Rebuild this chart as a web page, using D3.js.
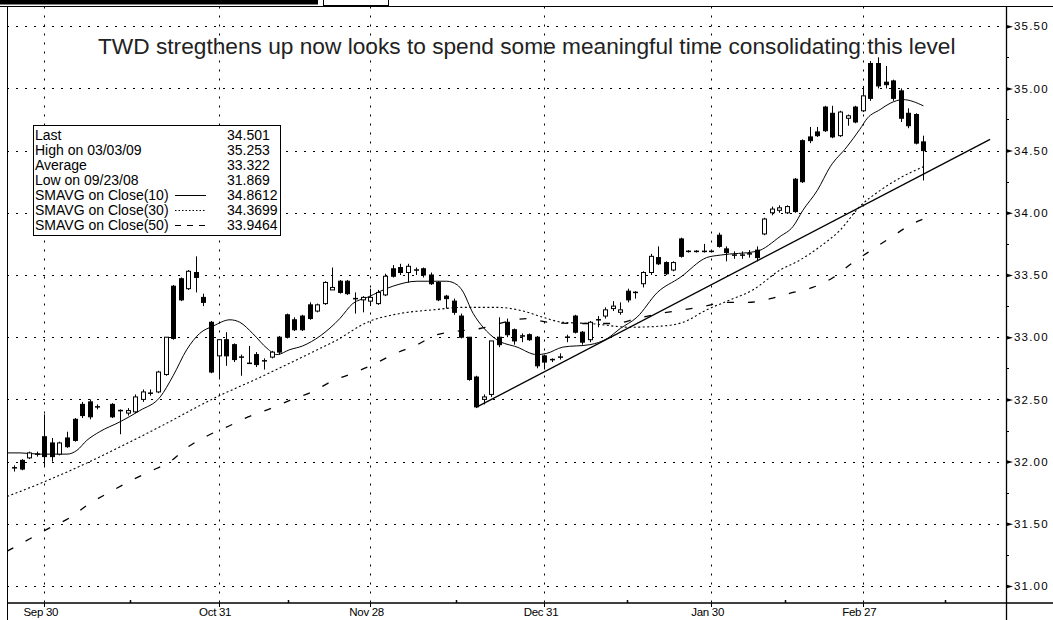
<!DOCTYPE html>
<html>
<head>
<meta charset="utf-8">
<script src="https://cdn.jsdelivr.net/npm/d3@7"></script>
<style>
body { margin: 0; background: #fff; }
svg { display: block; font-family: "Liberation Sans", Arial, sans-serif; }
</style>
</head>
<body>
<div id="vis"></div>
<script>
// ---- data (x = trading-day index, Sep 24 2008 = 0) ----
var dayIdx = [0,1,2,3,4,5,6,7,8,9,10,11,13,14,15,16,17,18,19,20,
  21,22,23,24,25,26,27,28,29,30,31,32,33,34,35,36,37,38,39,40,
  41,42,43,44,45,46,47,48,49,50,51,52,53,54,55,56,57,58,59,60,
  61,62,63,64,65,66,67,68,69,70,71,72,73,74,75,76,77,78,79,80,
  81,82,83,84,85,86,87,88,89,90,91,92,93,94,95,96,97,98,99,100,
  101,102,103,104,105,106,107,108,109,110,111,112,113,114,115,116,117,118,119,120];
var opens = [31.95,32.01,32.03,32.05,32.20,32.15,32.06,32.19,32.34,32.46,32.48,32.44,32.46,32.40,32.39,32.40,32.50,32.54,32.56,32.70,
  33.41,33.47,33.39,33.52,33.32,33.12,32.85,32.98,32.94,32.83,32.80,32.86,32.80,32.84,33.00,33.18,33.14,33.17,33.26,33.21,
  33.27,33.38,33.45,33.45,33.31,33.30,33.29,33.27,33.34,33.55,33.56,33.52,33.53,33.55,33.50,33.44,33.33,33.29,33.17,33.00,
  32.68,32.50,32.54,33.00,33.12,33.06,33.00,33.02,33.00,32.85,32.82,32.84,32.99,33.17,33.04,32.98,33.13,33.17,33.23,33.20,
  33.37,33.36,33.43,33.52,33.64,33.60,33.54,33.79,33.69,33.69,33.68,33.69,33.82,33.71,33.67,33.67,33.68,33.70,33.83,34.00,
  34.02,34.00,34.27,34.58,34.61,34.65,34.85,34.80,34.62,34.76,34.85,34.82,35.20,35.20,35.05,35.06,34.98,34.80,34.79,34.57];
var highs = [31.97,32.02,32.08,32.08,32.38,32.19,32.16,32.24,32.35,32.48,32.50,32.46,32.47,32.42,32.43,32.54,32.58,32.58,32.73,33.00,
  33.42,33.48,33.54,33.65,33.35,33.13,32.98,33.04,32.95,32.86,32.93,32.88,32.83,32.89,33.01,33.19,33.16,33.18,33.28,33.27,
  33.45,33.56,33.46,33.46,33.36,33.33,33.39,33.38,33.51,33.58,33.59,33.59,33.56,33.56,33.52,33.45,33.34,33.31,33.19,33.00,
  32.69,32.54,32.97,33.16,33.15,33.07,33.03,33.03,33.01,32.86,32.83,32.87,33.02,33.18,33.05,33.13,33.17,33.24,33.29,33.28,
  33.39,33.37,33.53,33.67,33.73,33.61,33.61,33.80,33.70,33.70,33.75,33.70,33.84,33.73,33.69,33.69,33.70,33.73,33.96,34.05,
  34.06,34.06,34.28,34.59,34.69,34.69,34.86,34.86,34.82,34.79,34.86,35.02,35.22,35.25,35.18,35.07,35.00,34.84,34.80,34.62];
var lows = [31.92,31.93,32.02,32.04,31.96,32.00,32.05,32.11,32.16,32.35,32.34,32.42,32.35,32.22,32.37,32.39,32.48,32.53,32.55,32.69,
  32.98,33.29,33.38,33.36,33.25,32.71,32.66,32.77,32.80,32.69,32.79,32.76,32.74,32.83,32.86,32.99,33.05,33.05,33.14,33.20,
  33.26,33.38,33.35,33.34,33.19,33.20,33.25,33.26,33.33,33.48,33.50,33.44,33.50,33.48,33.42,33.29,33.23,33.18,32.99,32.65,
  32.43,32.46,32.52,32.92,33.00,32.94,32.96,32.97,32.75,32.74,32.80,32.82,32.96,33.03,32.94,32.96,33.08,33.15,33.21,33.18,
  33.28,33.31,33.40,33.50,33.58,33.50,33.53,33.64,33.68,33.68,33.68,33.68,33.72,33.61,33.63,33.63,33.64,33.61,33.82,33.98,
  34.00,33.99,34.00,34.24,34.56,34.61,34.65,34.60,34.61,34.70,34.72,34.81,34.90,35.00,35.00,34.90,34.73,34.68,34.55,34.26];
var closes = [31.95,31.94,32.07,32.06,32.04,32.04,32.15,32.12,32.17,32.37,32.36,32.44,32.36,32.41,32.41,32.52,32.56,32.55,32.72,33.00,
  32.99,33.30,33.53,33.48,33.28,32.72,32.98,32.85,32.82,32.84,32.79,32.78,32.81,32.88,32.88,33.00,33.06,33.06,33.15,33.26,
  33.44,33.40,33.36,33.35,33.31,33.32,33.32,33.36,33.49,33.49,33.52,33.57,33.54,33.50,33.43,33.30,33.31,33.20,33.00,32.66,
  32.44,32.52,32.97,32.94,33.02,32.97,33.01,32.98,32.77,32.80,32.82,32.84,33.00,33.04,32.96,33.12,33.14,33.22,33.25,33.22,
  33.30,33.36,33.52,33.65,33.59,33.51,33.60,33.65,33.69,33.69,33.69,33.69,33.73,33.68,33.66,33.66,33.67,33.64,33.95,34.03,
  34.04,34.05,34.01,34.25,34.58,34.62,34.66,34.61,34.81,34.78,34.73,34.94,34.92,35.02,35.03,34.92,34.76,34.70,34.56,34.50];

// moving averages as drawn: [day index, price]
var sma10 = [[-0.9,32.07],[0.8,32.07],[3.4,32.06],[7.0,32.06],[8.3,32.09],[9.6,32.17],[11.3,32.24],[14.0,32.32],[16.6,32.41],
  [19.3,32.52],[21.0,32.69],[22.8,32.90],[24.5,33.03],[26.3,33.09],[28.5,33.14],[29.8,33.12],[31.5,33.03],[33.4,32.91],
  [34.7,32.86],[36.4,32.90],[38.1,32.93],[40.4,33.01],[43.0,33.15],[44.7,33.27],[46.6,33.32],[50.0,33.41],[53.2,33.45],
  [57.1,33.45],[58.5,33.42],[59.1,33.38],[60.6,33.19],[61.9,33.08],[63.7,32.98],[66.4,32.92],[69.0,32.86],[70.3,32.87],
  [72.4,32.92],[76.0,32.94],[78.3,32.99],[80.0,33.07],[82.2,33.16],[84.9,33.36],[87.9,33.48],[91.4,33.64],[93.2,33.66],
  [98.0,33.69],[101.1,33.81],[102.8,33.89],[104.1,34.02],[106.0,34.18],[107.7,34.37],[109.9,34.53],[111.6,34.67],
  [112.6,34.76],[114.3,34.83],[115.6,34.88],[117.3,34.91],[120,34.86]];
var sma30 = [[-0.9,31.72],[4.1,31.84],[10.0,32.00],[15.7,32.17],[20.2,32.31],[24.5,32.45],[27.1,32.53],[31.5,32.65],
  [36.0,32.78],[40.4,32.91],[42.4,32.97],[46.6,33.12],[50.9,33.19],[55.3,33.22],[59.3,33.24],[63.7,33.24],[67.2,33.21],
  [69.8,33.16],[72.4,33.12],[76.0,33.11],[81.3,33.08],[85.6,33.09],[88.3,33.12],[91.4,33.22],[94.5,33.30],[97.5,33.38],
  [101.1,33.54],[103.7,33.62],[106.4,33.73],[109.0,33.86],[111.6,34.05],[114.3,34.18],[116.9,34.28],[120,34.37]];
var sma50 = [[-0.9,31.28],[2.1,31.38],[4.8,31.47],[7.4,31.55],[9.9,31.66],[12.5,31.75],[15.2,31.84],[17.9,31.92],
  [20.6,32.00],[23.0,32.12],[25.6,32.21],[28.5,32.29],[30.9,32.36],[34.0,32.43],[36.7,32.50],[39.3,32.56],[42.1,32.65],
  [44.7,32.71],[47.4,32.78],[50.0,32.86],[53.2,32.94],[55.8,33.02],[61.5,33.07],[67.7,33.15],[70.5,33.12],[74.7,33.11],
  [79.3,33.11],[82.2,33.15],[85.2,33.19],[88.3,33.22],[91.2,33.25],[93.6,33.28],[96.9,33.28],[99.8,33.31],[102.8,33.36],
  [105.4,33.40],[108.1,33.48],[110.7,33.60],[113.4,33.71],[115.9,33.81],[118.5,33.91],[120,33.95]];
var trendLine = [[61.1,32.44],[128.8,34.59]];

var priceTicks = [31, 31.5, 32, 32.5, 33, 33.5, 34, 34.5, 35, 35.5];
var priceMinor = [31.25, 31.75, 32.25, 32.75, 33.25, 33.75, 34.25, 34.75, 35.25];
var dateTickIdx = [4, 27, 47, 70, 92, 112];
var dateTickLabels = ["Sep 30", "Oct 31", "Nov 28", "Dec 31", "Jan 30", "Feb 27"];
var dateMinorIdx = [15.3, 36.1, 58.3, 80.9, 101.7, 122.8];

var legendLabels = ["Last", "High on 03/03/09", "Average", "Low on 09/23/08",
  "SMAVG on Close(10)", "SMAVG on Close(30)", "SMAVG on Close(50)"];
var legendValues = ["34.501", "35.253", "33.322", "31.869", "34.8612", "34.3699", "33.9464"];

var title = "TWD stregthens up now looks to spend some meaningful time consolidating this level";

// ---- layout ----
var width = 1053, height = 620;
var plotLeft = 7, plotRight = 1006, plotTop = 6.5, plotBottom = 603;

var svg = d3.select("#vis").append("svg")
  .attr("width", width)
  .attr("height", height);

svg.append("rect").attr("width", width).attr("height", height).attr("fill", "#fff");

var x = d3.scaleLinear().domain([-0.92, 130.9]).range([plotLeft, plotRight]);
var y = d3.scaleLinear().domain([31, 35.5]).range([586, 26.2]);

// header strip
svg.append("rect").attr("x", 0).attr("y", 0).attr("width", 318).attr("height", 4.5).attr("fill", "#000");
svg.append("rect").attr("x", 323.5).attr("y", -1).attr("width", 65).attr("height", 6.5)
  .attr("fill", "#fff").attr("stroke", "#000");

// grid
svg.append("g").selectAll("line")
  .data(priceTicks)
  .enter().append("line")
  .attr("x1", plotLeft).attr("x2", plotRight)
  .attr("y1", function(d) { return Math.round(y(d)) + 0.5; })
  .attr("y2", function(d) { return Math.round(y(d)) + 0.5; })
  .attr("stroke", "#000").attr("stroke-dasharray", "2,7");

svg.append("g").selectAll("line")
  .data(dateTickIdx)
  .enter().append("line")
  .attr("x1", function(d) { return Math.round(x(d)) + 0.5; })
  .attr("x2", function(d) { return Math.round(x(d)) + 0.5; })
  .attr("y1", plotTop).attr("y2", plotBottom)
  .attr("stroke", "#000").attr("stroke-dasharray", "2,7");

// frame
svg.append("line").attr("x1", 0).attr("x2", width).attr("y1", plotTop).attr("y2", plotTop).attr("stroke", "#000");
svg.append("line").attr("x1", plotLeft + 0.5).attr("x2", plotLeft + 0.5).attr("y1", plotTop).attr("y2", height).attr("stroke", "#000");
svg.append("line").attr("x1", plotRight + 0.5).attr("x2", plotRight + 0.5).attr("y1", plotTop).attr("y2", height).attr("stroke", "#000").attr("stroke-width", 1.3);
svg.append("line").attr("x1", plotLeft).attr("x2", width).attr("y1", plotBottom).attr("y2", plotBottom).attr("stroke", "#000").attr("stroke-width", 1.5);

// title
svg.append("text")
  .attr("x", 98).attr("y", 53.5)
  .attr("font-size", 22.7)
  .attr("fill", "#222")
  .text(title);

// moving averages and trend line
var line = d3.line()
  .x(function(d) { return x(d[0]); })
  .y(function(d) { return y(d[1]); })
  .curve(d3.curveMonotoneX);

svg.append("path").datum(sma50).attr("d", line)
  .attr("fill", "none").attr("stroke", "#000").attr("stroke-width", 1.3).attr("stroke-dasharray", "7,14");
svg.append("path").datum(sma30).attr("d", line)
  .attr("fill", "none").attr("stroke", "#000").attr("stroke-width", 1.1).attr("stroke-dasharray", "2,2.5");
svg.append("path").datum(sma10).attr("d", line)
  .attr("fill", "none").attr("stroke", "#000").attr("stroke-width", 1);
svg.append("path").datum(trendLine).attr("d", d3.line().x(function(d) { return x(d[0]); }).y(function(d) { return y(d[1]); }))
  .attr("fill", "none").attr("stroke", "#000").attr("stroke-width", 1.3);

// candles
var candles = svg.append("g").selectAll("g")
  .data(dayIdx.map(function(d, i) { return {i: d, o: opens[i], h: highs[i], l: lows[i], c: closes[i]}; }))
  .enter().append("g");

candles.append("line")
  .attr("x1", function(d) { return Math.round(x(d.i)) + 0.5; })
  .attr("x2", function(d) { return Math.round(x(d.i)) + 0.5; })
  .attr("y1", function(d) { return y(d.h); })
  .attr("y2", function(d) { return y(d.l); })
  .attr("stroke", "#000");

candles.filter(function(d) { return Math.abs(d.o - d.c) >= 0.015; })
  .append("rect")
  .attr("x", function(d) { return Math.round(x(d.i)) - 1.5; })
  .attr("width", 4)
  .attr("y", function(d) { return y(Math.max(d.o, d.c)); })
  .attr("height", function(d) { return Math.abs(y(d.o) - y(d.c)); })
  .attr("fill", function(d) { return d.c > d.o ? "#fff" : "#000"; })
  .attr("stroke", "#000");

candles.filter(function(d) { return Math.abs(d.o - d.c) < 0.015; })
  .append("line")
  .attr("x1", function(d) { return Math.round(x(d.i)) - 2; })
  .attr("x2", function(d) { return Math.round(x(d.i)) + 3; })
  .attr("y1", function(d) { return y(d.c); })
  .attr("y2", function(d) { return y(d.c); })
  .attr("stroke", "#000").attr("stroke-width", 1.5);

// right price axis
var yAxis = d3.axisRight(y)
  .tickValues(priceTicks)
  .tickSize(0)
  .tickPadding(8)
  .tickFormat(d3.format(".2f"));
var ya = svg.append("g")
  .attr("transform", "translate(" + plotRight + ",0)")
  .call(yAxis);
ya.select(".domain").remove();
ya.selectAll("text")
  .attr("font-family", "Liberation Sans, Arial, sans-serif")
  .attr("font-size", 11.5)
  .attr("letter-spacing", 1.2)
  .attr("fill", "#000");
ya.selectAll(".tick").append("path")
  .attr("d", "M0,-2L7,0L0,2Z")
  .attr("fill", "#000");

svg.append("g").selectAll("line")
  .data(priceMinor)
  .enter().append("line")
  .attr("x1", plotRight).attr("x2", plotRight + 3)
  .attr("y1", function(d) { return Math.round(y(d)) + 0.5; })
  .attr("y2", function(d) { return Math.round(y(d)) + 0.5; })
  .attr("stroke", "#000");

// bottom date axis
svg.append("g").selectAll("line")
  .data(dateTickIdx)
  .enter().append("line")
  .attr("x1", function(d) { return Math.round(x(d)) + 0.5; })
  .attr("x2", function(d) { return Math.round(x(d)) + 0.5; })
  .attr("y1", plotBottom).attr("y2", plotBottom + 4)
  .attr("stroke", "#000");
svg.append("g").selectAll("line")
  .data(dateMinorIdx)
  .enter().append("line")
  .attr("x1", function(d) { return Math.round(x(d)) + 0.5; })
  .attr("x2", function(d) { return Math.round(x(d)) + 0.5; })
  .attr("y1", plotBottom - 3).attr("y2", plotBottom)
  .attr("stroke", "#000").attr("stroke-width", 1.5);
svg.append("g").selectAll("text")
  .data(dateTickIdx)
  .enter().append("text")
  .attr("x", function(d) { return x(d) - 3.5; })
  .attr("y", 615.5)
  .attr("text-anchor", "middle")
  .attr("font-size", 11.5)
  .attr("letter-spacing", -0.3)
  .attr("fill", "#000")
  .text(function(d, i) { return dateTickLabels[i]; });

// stats legend box
var lg = svg.append("g");
lg.append("rect")
  .attr("x", 33.5).attr("y", 125.5).attr("width", 247).attr("height", 110)
  .attr("fill", "#fff").attr("stroke", "#000");
lg.selectAll("text.lab")
  .data(legendLabels)
  .enter().append("text")
  .attr("class", "lab")
  .attr("x", 35).attr("y", function(d, i) { return 140 + i * 15; })
  .attr("font-size", 14).attr("fill", "#000")
  .text(function(d) { return d; });
lg.selectAll("text.val")
  .data(legendValues)
  .enter().append("text")
  .attr("class", "val")
  .attr("x", 227).attr("y", function(d, i) { return 140 + i * 15; })
  .attr("font-size", 14).attr("fill", "#000")
  .text(function(d) { return d; });
var sampleDash = [null, "1.5,2", "6,6"];
lg.selectAll("line.sample")
  .data(sampleDash)
  .enter().append("line")
  .attr("class", "sample")
  .attr("x1", 175).attr("x2", 206)
  .attr("y1", function(d, i) { return 195.5 + i * 15; })
  .attr("y2", function(d, i) { return 195.5 + i * 15; })
  .attr("stroke", "#000")
  .attr("stroke-dasharray", function(d) { return d; });
</script>
</body>
</html>
